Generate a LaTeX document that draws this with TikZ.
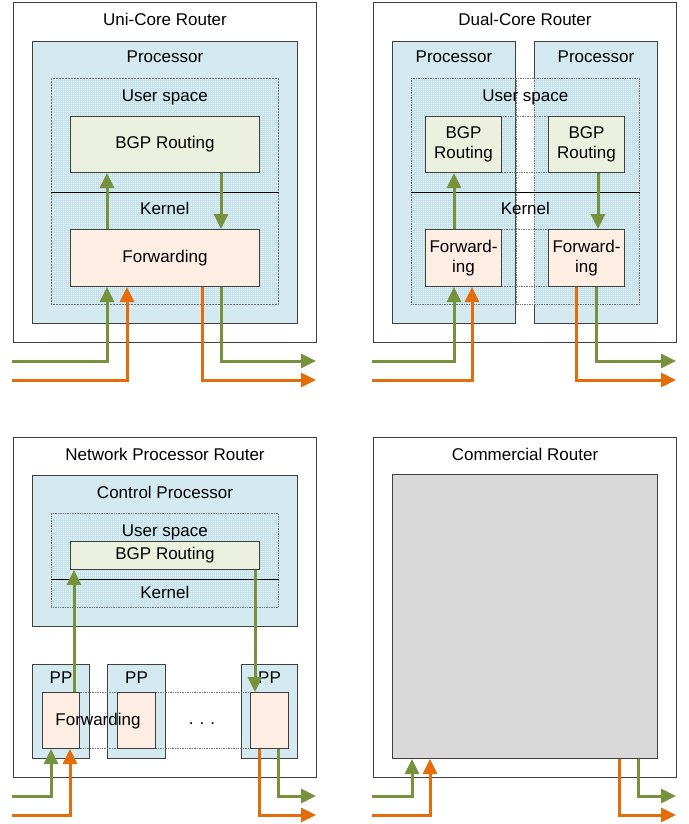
\documentclass[tikz,border=0pt]{standalone}
\usepackage{fontspec}
\setmainfont{Liberation Sans}
\usetikzlibrary{arrows.meta,patterns.meta}
\definecolor{procblue}{HTML}{D5EAF0}
\definecolor{regionfill}{HTML}{E6F3F7}
\definecolor{gridblue}{HTML}{C6E3EC}
\definecolor{bgpgreen}{HTML}{EBF1DE}
\definecolor{fwdorange}{HTML}{FDEDE2}
\definecolor{arrgreen}{HTML}{76923C}
\definecolor{arrorange}{HTML}{E46C0A}
\definecolor{boxgray}{HTML}{D9D9D9}
\tikzset{
        every node/.style={font=\fontsize{17}{20.5}\selectfont},
        box/.style={draw=black!75, line width=1pt, anchor=north west, inner sep=0pt, align=center},
        router/.style={box, fill=white},
        proc/.style={box, fill=procblue},
        bgp/.style={box, fill=bgpgreen},
        fwd/.style={box, fill=fwdorange},
        commercial/.style={box, fill=boxgray},
        region/.style={anchor=north west, inner sep=0pt, draw=black!55, densely dotted, line width=0.7pt,
          preaction={fill=regionfill}, pattern={Hatch[angle=0, distance=2pt, line width=0.5pt]}, pattern color=gridblue},
        regionpatch/.style={anchor=north west, inner sep=0pt, preaction={fill=regionfill},
          pattern={Hatch[angle=0, distance=2pt, line width=0.5pt]}, pattern color=gridblue},
        regionframe/.style={anchor=north west, inner sep=0pt, draw=black!55, densely dotted, line width=0.7pt},
        linkframe/.style={anchor=north west, inner sep=0pt, draw=black!55, densely dotted, line width=0.7pt},
        dotline/.style={draw=black!55, densely dotted, line width=0.7pt},
        divider/.style={draw=black, line width=0.7pt},
        lbl/.style={text height=12pt, text depth=0pt, inner sep=0pt},
        garr/.style={draw=arrgreen, line width=3pt, -{Triangle[length=15pt, width=14pt]}},
        oarr/.style={draw=arrorange, line width=3pt, -{Triangle[length=15pt, width=14pt]}}
          }
\begin{document}
\begin{tikzpicture}[x=1pt, y=-1pt]
  \useasboundingbox (0,0) rectangle (688,824);

  \node[router, minimum width=303pt, minimum height=340pt] (uni) at (13,2) {};
  \node[lbl] at ([yshift=-18pt]uni.north) {Uni-Core Router};
  \node[proc, minimum width=265pt, minimum height=282pt] (uniproc) at (32,41) {};
  \node[lbl] at ([yshift=-16pt]uniproc.north) {Processor};
  \node[region, minimum width=227pt, minimum height=226pt] (unireg) at (51,78) {};
  \node[lbl] at ([yshift=-18pt]unireg.north) {User space};
  \draw[divider] ([yshift=-114pt]unireg.north west) -- ([yshift=-114pt]unireg.north east);
  \node[lbl] at ([yshift=-130pt]unireg.north) {Kernel};
  \node[bgp, minimum width=189pt, minimum height=56pt] (unibgp) at (70,116) {BGP Routing};
  \node[fwd, minimum width=189pt, minimum height=57pt] (unifwd) at (70,229) {Forwarding};
  \draw[garr] ([xshift=37pt]unifwd.north west) -- ([xshift=37pt]unibgp.south west);
  \draw[garr] ([xshift=151pt]unibgp.south west) -- ([xshift=151pt]unifwd.north west);
  \coordinate (unigin) at (12,361);
  \coordinate (unioin) at (12,380);
  \coordinate (unigout) at (316,361);
  \coordinate (unioout) at (316,380);
  \draw[garr] (unigin) -| ([xshift=37pt]unifwd.south west);
  \draw[oarr] (unioin) -| ([xshift=57pt]unifwd.south west);
  \draw[oarr] ([xshift=132pt]unifwd.south west) |- (unioout);
  \draw[garr] ([xshift=151pt]unifwd.south west) |- (unigout);

  \node[router, minimum width=303pt, minimum height=340pt] (dual) at (373,2) {};
  \node[lbl] at ([yshift=-18pt]dual.north) {Dual-Core Router};
  \node[proc, minimum width=123pt, minimum height=282pt] (dualprocl) at (392,41) {};
  \node[lbl] at ([yshift=-16pt]dualprocl.north) {Processor};
  \node[proc, minimum width=123pt, minimum height=282pt] (dualprocr) at (534,41) {};
  \node[lbl] at ([yshift=-16pt]dualprocr.north) {Processor};
  \node[regionpatch, minimum width=104pt, minimum height=226pt] at (411,78) {};
  \node[regionpatch, minimum width=105pt, minimum height=226pt] at (534,78) {};
  \node[regionframe, minimum width=228pt, minimum height=226pt] (dualreg) at (411,78) {};
  \draw[dotline] (dualprocl.east |- dualreg.north) -- (dualprocl.east |- dualreg.south);
  \draw[dotline] (dualprocr.west |- dualreg.north) -- (dualprocr.west |- dualreg.south);
  \node[lbl] at ([yshift=-18pt]dualreg.north) {User space};
  \draw[divider] ([yshift=-114pt]dualreg.north west) -- ([yshift=-114pt]dualreg.north east);
  \node[lbl] at ([yshift=-130pt]dualreg.north) {Kernel};
  \node[linkframe, minimum width=199pt, minimum height=56pt] at (425,116) {};
  \node[linkframe, minimum width=199pt, minimum height=57pt] at (425,229) {};
  \node[bgp, minimum width=76pt, minimum height=56pt] (dualbgpl) at (425,116) {BGP\\Routing};
  \node[bgp, minimum width=76pt, minimum height=56pt] (dualbgpr) at (548,116) {BGP\\Routing};
  \node[fwd, minimum width=76pt, minimum height=57pt] (dualfwdl) at (425,229) {Forward-\\ing};
  \node[fwd, minimum width=76pt, minimum height=57pt] (dualfwdr) at (548,229) {Forward-\\ing};
  \draw[garr] ([xshift=29pt]dualfwdl.north west) -- ([xshift=29pt]dualbgpl.south west);
  \draw[garr] ([xshift=50pt]dualbgpr.south west) -- ([xshift=50pt]dualfwdr.north west);
  \coordinate (dualgin) at (372,361);
  \coordinate (dualoin) at (372,380);
  \coordinate (dualgout) at (676,361);
  \coordinate (dualoout) at (676,380);
  \draw[garr] (dualgin) -| ([xshift=29pt]dualfwdl.south west);
  \draw[oarr] (dualoin) -| ([xshift=47pt]dualfwdl.south west);
  \draw[oarr] ([xshift=28pt]dualfwdr.south west) |- (dualoout);
  \draw[garr] ([xshift=48pt]dualfwdr.south west) |- (dualgout);

  \node[router, minimum width=303pt, minimum height=340pt] (np) at (13,437) {};
  \node[lbl] at ([yshift=-17pt]np.north) {Network Processor Router};
  \node[proc, minimum width=265pt, minimum height=151pt] (npctrl) at (32,475) {};
  \node[lbl] at ([yshift=-17pt]npctrl.north) {Control Processor};
  \node[region, minimum width=227pt, minimum height=94pt] (npreg) at (51,513) {};
  \node[lbl] at ([yshift=-17pt]npreg.north) {User space};
  \draw[divider] ([yshift=-66pt]npreg.north west) -- ([yshift=-66pt]npreg.north east);
  \node[lbl] at ([yshift=-79pt]npreg.north) {Kernel};
  \node[bgp, minimum width=189pt, minimum height=28pt] (npbgp) at (70,541) {BGP Routing};
  \node[proc, minimum width=57pt, minimum height=94pt] (nppp1) at (32,664) {};
  \node[proc, minimum width=58pt, minimum height=94pt] (nppp2) at (107,664) {};
  \node[proc, minimum width=56pt, minimum height=94pt] (nppp3) at (241,664) {};
  \node[lbl] at ([yshift=-13pt]nppp1.north) {PP};
  \node[lbl] at ([yshift=-13pt]nppp2.north) {PP};
  \node[lbl] at ([yshift=-13pt]nppp3.north) {PP};
  \node[linkframe, minimum width=246pt, minimum height=56pt] at (42,692) {};
  \node[fwd, minimum width=37pt, minimum height=56pt] (npfwd1) at (42,692) {};
  \node[fwd, minimum width=38pt, minimum height=56pt] (npfwd2) at (117,692) {};
  \node[fwd, minimum width=38pt, minimum height=56pt] (npfwd3) at (250,692) {};
  \node[lbl] (npfwdlbl) at (98,719) {Forwarding};
  \node[lbl] (npdots) at (202,718) {.\hspace{6pt}.\hspace{6pt}.};
  \draw[garr] ([xshift=32pt]npfwd1.north west) -- ([xshift=4pt]npbgp.south west);
  \draw[garr] ([xshift=185pt]npbgp.south west) -- ([xshift=5pt]npfwd3.north west);
  \coordinate (npgin) at (12,796);
  \coordinate (npoin) at (12,815);
  \coordinate (npgout) at (316,796);
  \coordinate (npoout) at (316,815);
  \draw[garr] (npgin) -| ([xshift=9pt]npfwd1.south west);
  \draw[oarr] (npoin) -| ([xshift=28pt]npfwd1.south west);
  \draw[oarr] ([xshift=9pt]npfwd3.south west) |- (npoout);
  \draw[garr] ([xshift=28pt]npfwd3.south west) |- (npgout);

  \node[router, minimum width=303pt, minimum height=340pt] (com) at (373,437) {};
  \node[lbl] at ([yshift=-17pt]com.north) {Commercial Router};
  \node[commercial, minimum width=265pt, minimum height=284pt] (comcore) at (392,474) {};
  \coordinate (comgin) at (372,796);
  \coordinate (comoin) at (372,815);
  \coordinate (comgout) at (676,796);
  \coordinate (comoout) at (676,815);
  \draw[garr] (comgin) -| ([xshift=20pt]comcore.south west);
  \draw[oarr] (comoin) -| ([xshift=38pt]comcore.south west);
  \draw[oarr] ([xshift=227pt]comcore.south west) |- (comoout);
  \draw[garr] ([xshift=246pt]comcore.south west) |- (comgout);
\end{tikzpicture}
\end{document}
